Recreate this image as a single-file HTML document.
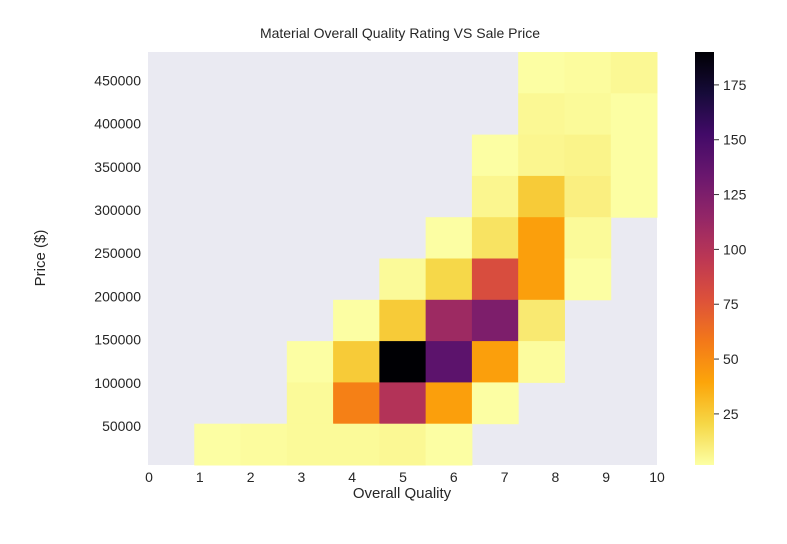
<!DOCTYPE html>
<html><head><meta charset="utf-8"><style>
body{margin:0;background:#fff;}
svg text{font-family:"Liberation Sans",sans-serif;fill:#262626;}
</style></head><body>
<svg id="chart" width="787" height="539">
<text x="400" y="38" text-anchor="middle" font-size="14">Material Overall Quality Rating VS Sale Price</text>
<rect x="148" y="52" width="509" height="413" fill="#eaeaf2"/>
<g id="cells"></g><g id="xt"></g><g id="yt"></g>
<defs><linearGradient id="cbg" x1="0" y1="1" x2="0" y2="0"></linearGradient></defs>
<rect x="695" y="52" width="19" height="413" fill="url(#cbg)"/>
<g id="ct"></g>
<text x="402" y="498" text-anchor="middle" font-size="15">Overall Quality</text>
<text transform="translate(45,258) rotate(-90)" text-anchor="middle" font-size="15">Price ($)</text>
</svg>
<script>
const counts = [
 [0,0,0,0,0,0,0,0,2,3,5],
 [0,0,0,0,0,0,0,0,5,4,2],
 [0,0,0,0,0,0,0,2,6,7,2],
 [0,0,0,0,0,0,0,6,25,9,2],
 [0,0,0,0,0,0,2,15,42,4,0],
 [0,0,0,0,0,4,20,80,42,2,0],
 [0,0,0,0,2,25,110,125,12,0,0],
 [0,0,0,2,25,190,140,42,3,0,0],
 [0,0,0,4,55,100,42,2,0,0,0],
 [0,2,3,4,4,5,2,0,0,0,0]
];
const xTicks = [0,1,2,3,4,5,6,7,8,9,10];
const yTicks = [50000,100000,150000,200000,250000,300000,350000,400000,450000];
const cbTicks = [25,50,75,100,125,150,175];
const vmin = 1.7, vmax = 190;
const NS="http://www.w3.org/2000/svg";
const L=148,R=657,T=52,B=465;
const nCols=11,nRows=10;
const colX=c=>L+c*(R-L)/nCols;
const rowY=r=>T+r*(B-T)/nRows;
const xTickPos=v=>149+v*50.8;
const yTickPos=v=>426-(v-50000)/50000*43.2;
const cbPos=v=>B-(v-vmin)/(vmax-vmin)*(B-T);
const stops=["#000004","#160b39","#420a68","#6a176e","#932667","#bc3754","#dd513a","#f37819","#fca50a","#f6d746","#fcffa4"];
function hex(h){return [1,3,5].map(i=>parseInt(h.substr(i,2),16));}
function inferR(v){let t=1-Math.min(1,Math.max(0,(v-vmin)/(vmax-vmin)));let p=t*10,i=Math.min(9,Math.floor(p)),f=p-i;
 const a=hex(stops[i]),b=hex(stops[i+1]);return "rgb("+a.map((x,k)=>Math.round(x+(b[k]-x)*f)).join(",")+")";}
function mk(tag,at,parent){const e=document.createElementNS(NS,tag);for(const k in at)e.setAttribute(k,at[k]);parent.appendChild(e);return e;}
const cg=document.getElementById('cells');
counts.forEach((row,r)=>row.forEach((v,c)=>{if(!v)return;
 const e=mk('rect',{x:colX(c),y:rowY(r),width:colX(c+1)-colX(c)+0.5,height:rowY(r+1)-rowY(r)+0.5,fill:inferR(v)},cg);
 
 }));
const xt=document.getElementById('xt');
xTicks.forEach(v=>{const e=mk('text',{x:xTickPos(v),y:482,'text-anchor':'middle','font-size':14},xt);e.textContent=v;
 
 });
const yt=document.getElementById('yt');
yTicks.forEach(v=>{const e=mk('text',{x:141,y:yTickPos(v)+5,'text-anchor':'end','font-size':14},yt);e.textContent=v;
 
 });
const g=document.getElementById('cbg');
for(let i=0;i<=20;i++){const v=vmin+(vmax-vmin)*i/20;mk('stop',{offset:(i/20),'stop-color':inferR(v)},g);}
const ct=document.getElementById('ct');
cbTicks.forEach(v=>{const y=cbPos(v);
 const l=mk('line',{x1:714,x2:719,y1:y,y2:y,stroke:'#333'},ct);
 
 
 const e=mk('text',{x:723,y:y+5,'font-size':14},ct);e.textContent=v;
 
 });
</script>
</body></html>
